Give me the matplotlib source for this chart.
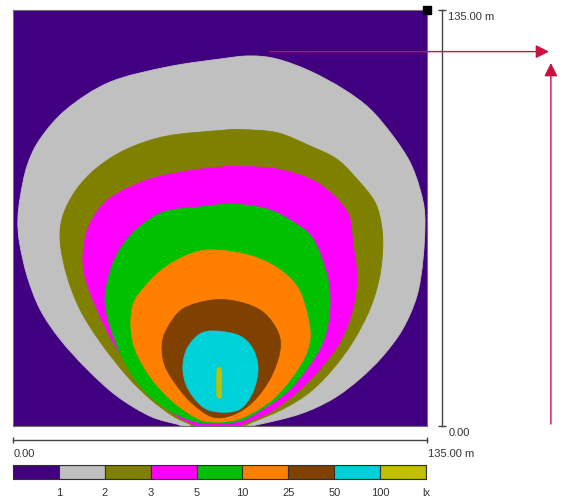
import matplotlib
matplotlib.use("Agg")
import matplotlib.pyplot as plt
from matplotlib.path import Path
from matplotlib.patches import PathPatch

plt.rcParams['font.family'] = ['Liberation Sans', 'DejaVu Sans']

# 照度等級 (lx) 與色階
lux_levels = ["1", "2", "3", "5", "10", "25", "50", "100"]
band_colors = ["#400080", "#c0c0c0", "#808000", "#ff00ff", "#00c000",
               "#ff8000", "#804000", "#00d0d8", "#c0c000"]

area_size = 135.0  # m

# 等照度線 (m)
iso_1 = [(56.7, 0), (53.5, 0.6), (44.7, 3.2), (33.9, 9.7), (24.1, 18.5), (15.3, 28.2),
         (8.8, 37.9), (4.6, 48.7), (2.1, 59.7), (1.6, 67.0), (2.4, 74.5), (4.6, 84.4),
         (8.8, 93.1), (17.6, 102.9), (31.6, 111.6), (50.2, 116.5), (67.5, 119.1),
         (77.3, 120.1), (86.1, 119.1), (96.8, 115.2), (107.6, 109.4), (116.4, 102.9),
         (123.9, 94.1), (129.4, 85.7), (132.7, 76.9), (134.3, 68.1), (133.7, 54.2),
         (131.7, 42.2), (127.1, 31.5), (120.6, 22.7), (113.1, 15.3), (104.3, 8.8),
         (93.6, 3.9), (80.5, 0.6), (75.0, 0)]
iso_2 = [(59.3, 0), (57.7, 0.6), (52.2, 3.2), (44.7, 8.8), (37.2, 16.2), (28.4, 27.3),
         (21.8, 37.9), (17.6, 48.7), (15.4, 59.7), (16.2, 68.0), (20.5, 76.5),
         (27.4, 83.8), (37.2, 89.9), (50.2, 94.1), (67.5, 95.9), (74.0, 96.2),
         (86.1, 95.2), (96.8, 90.9), (105.6, 86.6), (112.1, 80.2), (117.4, 73.7),
         (119.6, 68.1), (120.6, 59.7), (119.6, 48.7), (116.4, 38.0), (110.8, 27.3),
         (104.3, 18.5), (96.8, 11.0), (88.0, 5.5), (78.2, 1.3), (74.0, 0)]
iso_3 = [(60.3, 0), (58.7, 0.6), (53.5, 3.2), (45.6, 9.7), (39.1, 17.5), (32.6, 27.3),
         (27.4, 37.9), (23.4, 48.7), (23.0, 57.5), (25.3, 66.0), (31.5, 73.8),
         (43.7, 79.8), (56.7, 82.7), (67.5, 84.0), (75.0, 84.2),
         (86.1, 83.4), (96.8, 80.2), (103.3, 75.9), (107.6, 71.4), (109.9, 67.2),
         (110.8, 59.7), (112.1, 48.7), (110.8, 38.0), (106.6, 27.3), (100.1, 18.5),
         (92.6, 11.0), (83.8, 4.5), (76.3, 1.3), (73.0, 0)]
iso_5 = [(62.6, 1.0), (57.7, 1.9), (50.2, 5.5), (42.4, 12.0), (35.9, 21.7), (31.6, 32.5),
         (30.0, 41.2), (31.6, 50.0), (34.9, 57.4), (40.4, 63.9), (48.9, 69.4),
         (61.0, 71.1), (71.7, 72.0), (82.8, 70.4), (91.3, 66.2), (97.8, 60.7),
         (102.4, 48.7), (103.3, 38.0), (101.1, 27.3), (95.8, 18.5), (89.3, 11.0),
         (81.5, 5.5), (75.0, 1.9), (69.1, 1.0)]
iso_10 = [(62.6, 1.6), (56.7, 4.5), (50.2, 9.7), (43.7, 17.5), (39.1, 27.3), (38.8, 38.0),
          (42.4, 44.5), (50.2, 51.9), (61.0, 56.8), (71.7, 56.5), (80.5, 54.2),
          (88.0, 50.0), (93.6, 43.5), (96.8, 31.5), (95.8, 24.0), (91.3, 16.2),
          (84.8, 8.8), (77.3, 3.9), (70.7, 1.6)]
iso_25 = [(65.2, 2.9), (58.7, 7.1), (53.5, 13.0), (49.6, 19.5), (48.6, 26.0), (50.2, 31.5),
          (55.4, 38.0), (65.2, 40.9), (74.0, 40.2), (81.5, 37.0), (86.4, 30.5),
          (87.0, 24.0), (83.8, 15.3), (78.2, 7.8), (71.7, 3.6)]
iso_50 = [(67.5, 4.5), (61.9, 6.2), (57.1, 12.0), (55.4, 18.5), (56.7, 25.0), (61.0, 29.9),
          (66.5, 30.8), (74.0, 29.2), (78.2, 25.0), (79.9, 18.5), (78.2, 11.0),
          (74.0, 5.5)]
iso_100 = [(66.9, 9.2), (67.5, 9.0), (68.0, 10.3), (68.0, 17.6), (67.5, 18.9),
           (66.9, 18.9), (66.5, 17.6), (66.5, 10.3)]

isolines = [iso_1, iso_2, iso_3, iso_5, iso_10, iso_25, iso_50, iso_100]

text_color = "#333333"
red = "#cc1040"


def smooth_outline(pts):
    # 經過讀取點的封閉平滑曲線 (Catmull-Rom -> Bezier)
    n = len(pts)
    verts = [pts[0]]
    codes = [Path.MOVETO]
    for i in range(n):
        p0, p1 = pts[i - 1], pts[i]
        p2, p3 = pts[(i + 1) % n], pts[(i + 2) % n]
        c1 = (p1[0] + (p2[0] - p0[0]) / 6, p1[1] + (p2[1] - p0[1]) / 6)
        c2 = (p2[0] - (p3[0] - p1[0]) / 6, p2[1] - (p3[1] - p1[1]) / 6)
        verts += [c1, c2, p2]
        codes += [Path.CURVE4] * 3
    verts.append(pts[0])
    codes.append(Path.CLOSEPOLY)
    return Path(verts, codes)


fig = plt.figure(figsize=(5.66, 5.02), dpi=100)
ax = fig.add_axes([13 / 566, 75 / 502, 414 / 566, 416 / 502])
ax.set_facecolor(band_colors[0])
for pts, col in zip(isolines, band_colors[1:]):
    ax.add_patch(PathPatch(smooth_outline(pts), fc=col, ec=col, lw=0.6))
ax.set_xlim(0, area_size)
ax.set_ylim(0, area_size)
ax.set_xticks([])
ax.set_yticks([])
for s in ax.spines.values():
    s.set_color("#707070")
    s.set_linewidth(0.8)

# 角落黑點
ax.plot([area_size], [area_size], "s", color="black", ms=6, clip_on=False, zorder=5)

# 尺規
sx = area_size + 4.8
ax.plot([sx, sx], [0, area_size], color="#444444", lw=1, marker="_", ms=6,
        clip_on=False)
sy = -4.45
ax.plot([0, area_size], [sy, sy], color="#444444", lw=1, marker="|", ms=5,
        clip_on=False)
ax.text(sx + 2.1, area_size - 2.0, "135.00 m", fontsize=8, color=text_color,
        va="center", ha="left", clip_on=False)
ax.text(sx + 2.1, -1.9, "0.00", fontsize=8, color=text_color,
        va="center", ha="left", clip_on=False)
ax.text(0.3, -8.8, "0.00", fontsize=8, color=text_color, va="center", ha="left",
        clip_on=False)
ax.text(135.3, -8.8, "135.00 m", fontsize=8, color=text_color, va="center",
        ha="left", clip_on=False)

# 紅色箭頭
ax.annotate("", xy=(174.8, 121.5), xytext=(83.8, 121.5),
            arrowprops=dict(arrowstyle="-|>", color=red, lw=1, mutation_scale=20,
                            shrinkA=0, shrinkB=0),
            annotation_clip=False, zorder=6)
ax.annotate("", xy=(175.4, 117.8), xytext=(175.4, 0.65),
            arrowprops=dict(arrowstyle="-|>", color=red, lw=1, mutation_scale=20,
                            shrinkA=0, shrinkB=0),
            annotation_clip=False, zorder=6)

# 色階圖例
cax = fig.add_axes([13 / 566, 22 / 502, 413 / 566, 14 / 502])
cax.bar(range(len(band_colors)), [1] * len(band_colors), width=1, align="edge",
        color=band_colors, edgecolor="#303030", lw=0.8)
cax.set_xlim(0, len(band_colors))
cax.set_ylim(0, 1)
cax.set_yticks([])
cax.set_xticks(range(1, len(band_colors) + 1))
cax.set_xticklabels(lux_levels + ["lx"], fontsize=8, color=text_color)
cax.tick_params(axis="x", length=0, pad=6)
for s in cax.spines.values():
    s.set_color("#303030")
    s.set_linewidth(0.8)

fig.savefig("out.png", dpi=100)
